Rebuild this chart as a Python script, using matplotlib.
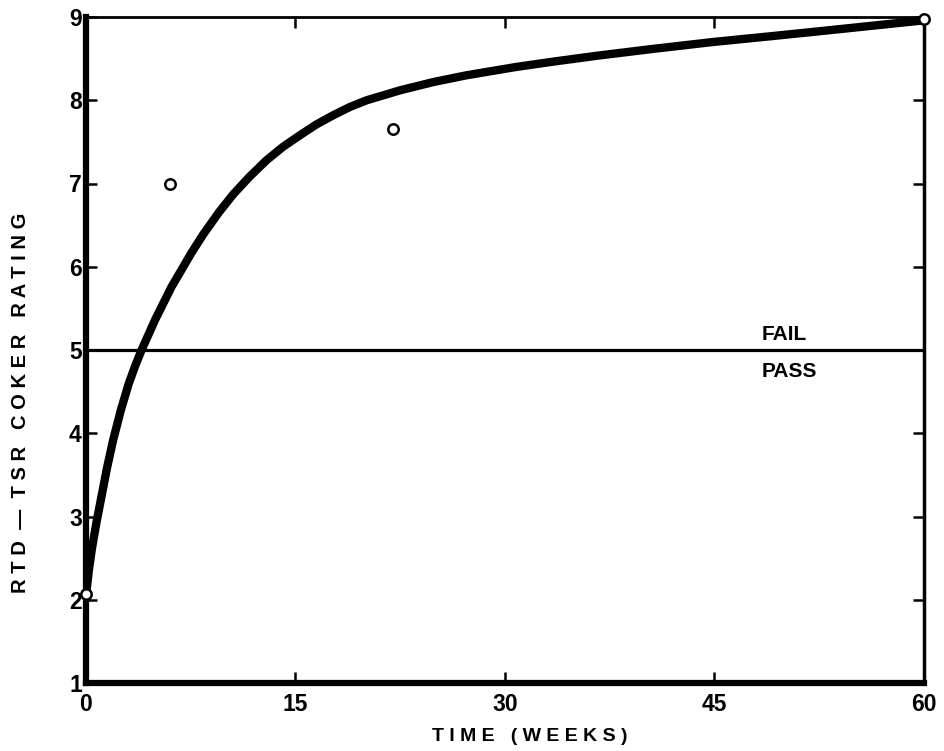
import matplotlib
matplotlib.use("Agg")
import matplotlib.pyplot as plt

# Data
obs_weeks = [0, 6, 22, 60]
obs_rating = [2.07, 7.0, 7.65, 8.97]

curve_weeks = [0, 0.2, 0.43, 0.75, 1.12, 1.5, 1.96, 2.5, 3.03, 3.5, 3.98, 4.94, 6.13, 7.56, 8.4,
               9.5, 10.54, 11.7, 12.93, 14.1, 15.32, 16.5, 17.7, 18.9, 20.1, 22.5, 24.9, 27.25,
               30.8, 33.5, 36.6, 40.5, 44.9, 48.5, 52, 56, 60]
curve_rating = [2.05, 2.35, 2.62, 2.93, 3.25, 3.58, 3.93, 4.28, 4.58, 4.8, 5.0, 5.36, 5.76, 6.17, 6.39,
                6.65, 6.87, 7.08, 7.28, 7.44, 7.58, 7.71, 7.82, 7.92, 8.0, 8.12, 8.22, 8.3,
                8.4, 8.465, 8.535, 8.615, 8.7, 8.76, 8.82, 8.89, 8.96]

threshold = 5
x_ticks = [0, 15, 30, 45, 60]
y_ticks = [1, 2, 3, 4, 5, 6, 7, 8, 9]

plt.rcParams['font.family'] = ['Liberation Sans', 'DejaVu Sans']

fig = plt.figure(figsize=(9.45, 7.51), dpi=100)
ax = fig.add_axes([86/945, 1-683/751, (924-86)/945, (683-17)/751])

ax.plot(curve_weeks, curve_rating, color='black', lw=6, solid_capstyle='round',
        solid_joinstyle='round', zorder=3)
ax.axhline(threshold, color='black', lw=2.3, zorder=2)
ax.plot(obs_weeks, obs_rating, 'o', ms=7.5, mfc='white', mec='black', mew=1.8, zorder=4, clip_on=False)

ax.set_xlim(0, 60)
ax.set_ylim(1, 9)
ax.set_xticks(x_ticks)
ax.set_yticks(y_ticks)
ax.tick_params(direction='in', length=8, width=1.8, labelsize=16.5,
               top=True, right=True)
ax.tick_params(axis='x', pad=7)
ax.tick_params(axis='y', pad=3)
for lab in ax.get_xticklabels() + ax.get_yticklabels():
    lab.set_fontweight('bold')

for side, w in [('left', 4.5), ('bottom', 4.5), ('top', 2), ('right', 2.5)]:
    ax.spines[side].set_linewidth(w)

ax.set_xlabel('T I M E   ( W E E K S )', fontsize=14, fontweight='bold')
ax.xaxis.set_label_coords(0.53, -0.067)
ax.set_ylabel('R T D  —  T S R   C O K E R   R A T I N G', fontsize=14.5, fontweight='bold')
ax.yaxis.set_label_coords(-0.067, 0.42)

ax.text(48.4, 5.07, 'FAIL', fontsize=15, fontweight='bold', ha='left', va='bottom')
ax.text(48.4, 4.86, 'PASS', fontsize=15, fontweight='bold', ha='left', va='top')

fig.savefig('out.png', dpi=100)
